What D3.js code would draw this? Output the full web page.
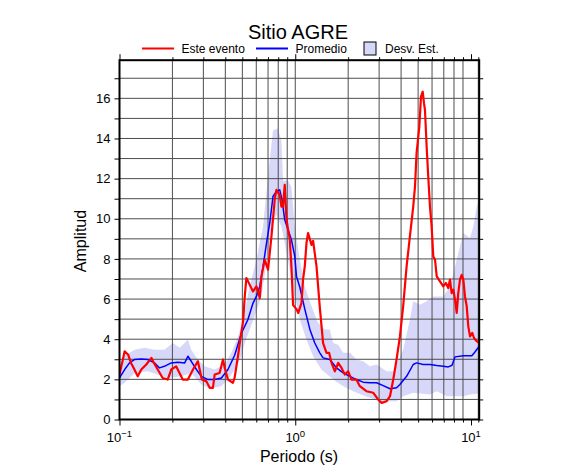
<!DOCTYPE html>
<html>
<head>
<meta charset="utf-8">
<script src="https://cdn.jsdelivr.net/npm/d3@7"></script>
<style>
  body { margin: 0; background: #fff; }
  svg { display: block; font-family: "Liberation Sans", Arial, sans-serif; }
</style>
</head>
<body>
<svg id="chart" width="586" height="475"></svg>
<script>
// [periodo (s), amplitud]
const eventCurve = [
  [0.1,2.24],[0.107,3.4],[0.112,3.23],[0.116,2.83],[0.119,2.65],[0.127,2.15],[0.133,2.49],[0.142,2.74],
  [0.152,3.07],[0.157,2.82],[0.165,2.49],[0.176,2.07],[0.188,1.99],[0.197,2.49],[0.210,2.65],[0.217,2.4],
  [0.229,1.99],[0.245,1.99],[0.262,2.49],[0.279,2.9],[0.286,2.49],[0.294,1.99],[0.312,1.9],[0.326,1.58],
  [0.340,1.58],[0.348,2.24],[0.371,2.32],[0.388,2.99],[0.397,2.57],[0.414,1.99],[0.442,1.83],[0.452,2.09],
  [0.472,3.15],[0.485,3.9],[0.505,4.9],[0.516,6.13],[0.527,7.05],[0.550,6.72],[0.575,6.38],[0.601,6.63],
  [0.614,6.38],[0.628,6.05],[0.642,7.13],[0.670,7.96],[0.700,7.46],[0.732,9.12],[0.764,10.95],[0.781,11.44],
  [0.816,11.19],[0.834,10.61],[0.852,10.61],[0.871,11.69],[0.891,10.0],[0.910,9.45],[0.930,9.0],[0.951,7.63],
  [0.972,5.7],[1.016,5.5],[1.04,5.31],[1.085,5.8],[1.108,7.0],[1.133,7.63],[1.158,8.79],[1.183,9.29],
  [1.237,8.7],[1.263,8.9],[1.321,7.63],[1.379,5.6],[1.44,3.8],[1.506,3.32],[1.558,3.32],[1.608,2.82],
  [1.68,2.4],[1.754,2.82],[1.834,2.57],[1.914,2.24],[2.0,2.4],[2.09,1.99],[2.23,1.99],[2.33,1.66],
  [2.54,1.41],[2.78,1.33],[2.96,1.0],[3.10,0.83],[3.31,0.91],[3.46,1.16],[3.61,1.99],[3.77,2.99],
  [3.94,4.14],[4.11,5.64],[4.30,7.63],[4.49,9.12],[4.69,10.61],[4.80,11.61],[4.90,13.27],[5.08,14.59],
  [5.19,16.08],[5.31,16.33],[5.40,15.76],[5.47,15.42],[5.59,13.6],[5.71,12.1],[5.84,10.6],[5.97,9.62],
  [6.10,8.12],[6.24,7.96],[6.38,7.13],[6.66,6.88],[6.95,6.63],[7.20,6.8],[7.42,6.55],[7.59,6.97],
  [7.76,6.3],[7.93,6.47],[8.11,5.97],[8.29,5.31],[8.46,6.3],[8.65,6.97],[8.85,7.21],[9.04,6.97],
  [9.24,6.13],[9.45,5.64],[9.65,4.64],[9.87,4.14],[10.17,4.31],[10.40,4.06],[10.78,3.9],[11.13,3.81]
];

const meanCurve = [
  [0.1,2.07],[0.107,2.49],[0.114,2.82],[0.122,2.99],[0.133,3.02],[0.145,2.99],[0.158,2.82],[0.169,2.57],
  [0.180,2.65],[0.197,2.82],[0.215,2.85],[0.235,2.82],[0.245,3.15],[0.256,2.9],[0.274,2.49],[0.292,2.15],
  [0.319,1.99],[0.348,1.99],[0.380,2.07],[0.414,2.49],[0.452,3.2],[0.494,4.3],[0.538,4.98],[0.575,5.8],
  [0.601,6.13],[0.628,6.63],[0.656,7.63],[0.686,8.79],[0.716,9.79],[0.747,11.11],[0.781,11.36],[0.816,11.44],
  [0.841,10.95],[0.871,9.95],[0.910,9.45],[0.951,8.96],[0.994,8.12],[1.016,7.13],[1.061,6.6],[1.133,5.5],
  [1.210,4.5],[1.291,3.81],[1.379,3.32],[1.44,3.07],[1.573,2.99],[1.717,2.57],[1.873,2.32],[2.045,2.15],
  [2.23,1.99],[2.434,1.86],[2.658,1.83],[2.901,1.83],[3.165,1.69],[3.46,1.53],[3.77,1.58],[3.94,1.74],
  [4.30,2.15],[4.69,2.74],[4.90,2.82],[5.34,2.74],[5.84,2.74],[6.38,2.69],[6.95,2.65],[7.42,2.62],
  [7.8,2.7],[8.11,3.12],[9.04,3.18],[10.1,3.18],[10.5,3.35],[11.13,3.65]
];

const stdUpper = [
  [0.1,2.65],[0.107,3.2],[0.122,3.48],[0.139,3.57],[0.158,3.48],[0.180,3.48],[0.201,3.81],[0.220,3.57],
  [0.235,3.81],[0.245,3.98],[0.256,3.48],[0.279,2.99],[0.305,2.65],[0.348,2.49],[0.397,2.74],[0.433,3.32],
  [0.472,4.14],[0.504,4.9],[0.550,6.63],[0.601,7.96],[0.656,9.62],[0.697,12.0],[0.747,14.4],[0.795,14.5],
  [0.834,13.9],[0.852,11.9],[0.910,11.9],[0.951,11.6],[0.994,9.62],[1.061,7.96],[1.133,6.63],[1.237,5.64],
  [1.349,4.81],[1.473,4.48],[1.573,4.48],[1.643,3.81],[1.754,3.73],[1.873,3.32],[2.045,3.32],[2.23,2.99],
  [2.434,2.9],[2.658,2.65],[2.901,2.74],[3.31,2.4],[3.61,2.4],[4.11,3.48],[4.49,4.98],[4.69,5.89],
  [5.12,5.72],[5.59,5.89],[6.10,6.13],[6.95,6.13],[7.59,6.63],[8.29,7.96],[9.04,9.29],[9.87,9.04],
  [10.3,9.62],[10.78,10.61],[11.13,10.95]
];

const stdLower = [
  [0.1,1.66],[0.107,1.83],[0.122,2.32],[0.145,2.4],[0.165,2.24],[0.188,2.07],[0.225,2.15],[0.256,2.32],
  [0.292,1.74],[0.319,1.58],[0.348,1.58],[0.380,1.66],[0.414,1.99],[0.452,2.49],[0.494,3.15],[0.516,3.81],
  [0.587,5.14],[0.642,6.13],[0.686,7.8],[0.732,9.6],[0.781,10.2],[0.834,9.6],[0.871,8.79],[0.930,7.46],
  [0.994,6.13],[1.061,4.98],[1.158,3.98],[1.263,3.15],[1.41,2.49],[1.643,1.99],[1.873,1.66],[2.23,1.33],
  [2.658,1.08],[3.165,0.91],[3.77,0.91],[4.11,1.16],[4.69,1.33],[5.84,1.24],[6.38,1.41],[7.27,1.16],
  [9.04,1.16],[9.87,1.24],[11.13,1.3]
];

const yTicks = d3.range(0, 18);
const yLabels = [0, 2, 4, 6, 8, 10, 12, 14, 16];
const xMajor = [0.1, 1, 10];
const xExponents = ['\u22121', '0', '1'];
const xMinor = [0.2,0.3,0.4,0.5,0.6,0.7,0.8,0.9,2,3,4,5,6,7,8,9,11];

(function(){
  const svg = d3.select('#chart');
  const left = 119.5, right = 479.2, plotTop = 60.2, bottom = 419.5;

  const x = d3.scaleLog().domain([0.1, 11.13]).range([left, right]);
  const y = d3.scaleLinear().domain([0, 17.9]).range([bottom, plotTop]);

  svg.append('defs').append('clipPath').attr('id', 'plot')
    .append('rect').attr('x', left).attr('y', plotTop)
    .attr('width', right - left).attr('height', bottom - plotTop);

  const line = d3.line().x(d => x(d[0])).y(d => y(d[1]));

  // desviacion estandar (banda)
  svg.append('path')
    .attr('clip-path', 'url(#plot)')
    .attr('d', line(stdUpper.concat(stdLower.slice().reverse())) + 'Z')
    .attr('fill', '#d7d7f9');

  // grid
  const grid = svg.append('g').attr('stroke', '#4d4d4d').attr('stroke-width', 1);
  grid.selectAll('line.v').data(xMinor.concat([1]).filter(v => v < 11.1)).join('line')
    .attr('class', 'v')
    .attr('x1', d => x(d)).attr('x2', d => x(d)).attr('y1', plotTop).attr('y2', bottom);
  grid.selectAll('line.h').data(yTicks.filter(v => v > 0)).join('line')
    .attr('class', 'h')
    .attr('x1', left).attr('x2', right).attr('y1', d => y(d)).attr('y2', d => y(d));

  // series
  svg.append('path').attr('clip-path', 'url(#plot)')
    .attr('d', line(meanCurve)).attr('fill', 'none')
    .attr('stroke', '#0000ff').attr('stroke-width', 1.5).attr('stroke-linejoin', 'round');
  svg.append('path').attr('clip-path', 'url(#plot)')
    .attr('d', line(eventCurve)).attr('fill', 'none')
    .attr('stroke', '#ff0000').attr('stroke-width', 2.2).attr('stroke-linejoin', 'round');

  // axes ticks
  function clean(g){ g.select('.domain').remove(); g.selectAll('text').remove(); }
  svg.append('g').attr('transform', `translate(${left},0)`)
    .call(d3.axisLeft(y).tickValues(yTicks).tickSize(5)).call(clean);
  svg.append('g').attr('transform', `translate(${right},0)`)
    .call(d3.axisRight(y).tickValues(yTicks).tickSize(4)).call(clean);
  svg.append('g').attr('transform', `translate(0,${bottom})`)
    .call(d3.axisBottom(x).tickValues(xMajor).tickSize(6)).call(clean);
  svg.append('g').attr('transform', `translate(0,${bottom})`)
    .call(d3.axisBottom(x).tickValues(xMinor).tickSize(3)).call(clean);
  svg.append('g').attr('transform', `translate(0,${plotTop})`)
    .call(d3.axisTop(x).tickValues(xMajor).tickSize(6)).call(clean);
  svg.append('g').attr('transform', `translate(0,${plotTop})`)
    .call(d3.axisTop(x).tickValues(xMinor).tickSize(3)).call(clean);
  svg.selectAll('.tick line').attr('stroke', '#000').attr('stroke-width', 1);

  // frame
  svg.append('rect').attr('x', left).attr('y', plotTop)
    .attr('width', right - left).attr('height', bottom - plotTop)
    .attr('fill', 'none').attr('stroke', '#000').attr('stroke-width', 2);

  // y labels
  svg.append('g').selectAll('text').data(yLabels).join('text')
    .attr('x', left - 9).attr('y', d => y(d) + 4.7)
    .attr('text-anchor', 'end').attr('font-size', 13).text(d => d);

  // x labels con exponente
  const xl = svg.append('g').selectAll('text').data(xMajor).join('text')
    .attr('x', d => x(d)).attr('y', 441.5)
    .attr('text-anchor', 'middle').attr('font-size', 13);
  xl.append('tspan').text('10');
  xl.append('tspan').attr('dy', -5).attr('font-size', 9.5).text((d, i) => xExponents[i]);

  // titles
  svg.append('text').attr('x', 298).attr('y', 38.5).attr('text-anchor', 'middle')
    .attr('font-size', 20).text('Sitio AGRE');
  svg.append('text').attr('x', 299).attr('y', 461.5).attr('text-anchor', 'middle')
    .attr('font-size', 16).text('Periodo (s)');
  svg.append('text').attr('transform', 'translate(86,241) rotate(-90)')
    .attr('text-anchor', 'middle').attr('font-size', 16).text('Amplitud');

  // legend
  const lg = svg.append('g').attr('font-size', 12);
  lg.append('line').attr('x1', 142).attr('x2', 174).attr('y1', 48.5).attr('y2', 48.5)
    .attr('stroke', '#ff0000').attr('stroke-width', 2);
  lg.append('text').attr('x', 181.5).attr('y', 53).text('Este evento');
  lg.append('line').attr('x1', 256).attr('x2', 288).attr('y1', 48.5).attr('y2', 48.5)
    .attr('stroke', '#0000ff').attr('stroke-width', 2);
  lg.append('text').attr('x', 295.5).attr('y', 53).text('Promedio');
  lg.append('rect').attr('x', 364).attr('y', 42).attr('width', 12).attr('height', 13)
    .attr('fill', '#d7d7f9').attr('stroke', '#000').attr('stroke-width', 1);
  lg.append('text').attr('x', 385).attr('y', 53).text('Desv. Est.');
})();
</script>
</body>
</html>
